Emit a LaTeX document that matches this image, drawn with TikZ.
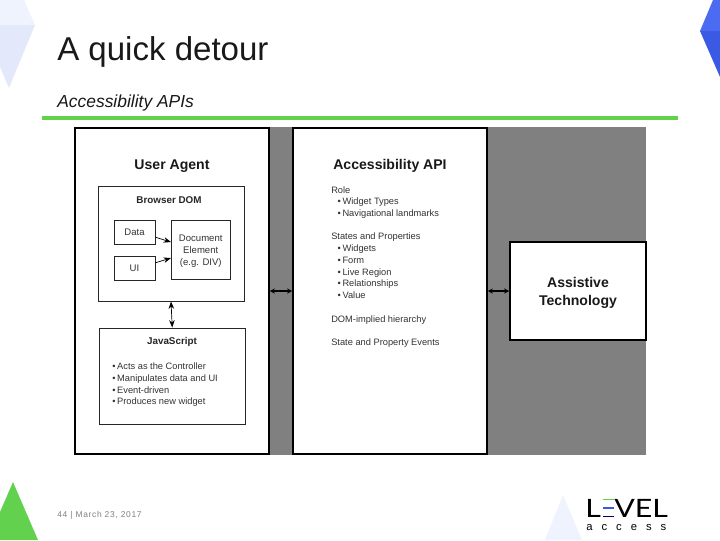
\documentclass[tikz,border=0pt]{standalone}
\usepackage{fontspec}
\setmainfont{Liberation Sans}
\newfontfamily\footfont[LetterSpace=8]{Liberation Sans}
\newfontfamily\logofont[FakeStretch=1.2]{Lato}
\usetikzlibrary{arrows.meta,positioning}
\definecolor{levelgreen}{HTML}{62D14E}
\definecolor{paleblue}{HTML}{E3E9FB}
\definecolor{palerblue}{HTML}{EFF3FD}
\definecolor{brightblue}{HTML}{4A6BF2}
\definecolor{deepblue}{HTML}{3A5AE4}
\newcommand{\tightdot}{\textbullet\hspace{1.2pt}}
\newcommand{\itemdot}{\hspace*{4.5pt}\tightdot}
\begin{document}
\begin{tikzpicture}[
      x=0.025cm,y=-0.025cm,
      panel/.style={draw=black,line width=1.1pt,fill=white,inner sep=0pt},
      inbox/.style={draw=black!85,line width=0.7pt,fill=white,inner sep=0pt,align=center,
                    font=\fontsize{6.8}{8.4}\selectfont,text=black!80},
      head/.style={font=\fontsize{10}{13}\selectfont\bfseries,text=black!90,align=center},
      subhead/.style={font=\fontsize{7}{8}\selectfont\bfseries,text=black!85},
      body/.style={font=\fontsize{6.6}{8.35}\selectfont,text=black!80,align=left,inner sep=0pt},
      twoway/.style={{Stealth[length=3.6pt,width=3.6pt]}-{Stealth[length=3.6pt,width=3.6pt]},line width=1.1pt,black},
      thinway/.style={Stealth-Stealth,line width=0.5pt,black},
      oneway/.style={-Stealth,line width=0.5pt,black},
  ]
  \useasboundingbox (0,0) rectangle (720,540);

  %--- slide decoration ---
  \fill[palerblue] (0,0) -- (24,0) -- (35,25) -- (0,25) -- cycle;
  \fill[paleblue] (0,25) -- (35,25) -- (9,88) -- (0,67) -- cycle;
  \fill[brightblue] (713,0) -- (720,0) -- (720,31) -- (700,31) -- cycle;
  \fill[deepblue] (700,31) -- (720,31) -- (720,77) -- cycle;
  \fill[levelgreen] (13,482) -- (38,540) -- (0,540) -- (0,512) -- cycle;
  \fill[palerblue] (563,495) -- (582,540) -- (545,540) -- cycle;

  \node[anchor=west,inner sep=0pt,font=\fontsize{23.5}{28}\selectfont,text=black!90] (title) at (57,52) {A quick detour};
  \node[anchor=west,inner sep=0pt,font=\fontsize{12.4}{15}\selectfont\itshape,text=black!90] (subtitle) at (57,103) {Accessibility APIs};
  \draw[levelgreen,line width=2.8pt] (42,118) -- (678,118);

  %--- diagram ---
  \node[fill=black!50,inner sep=0pt,minimum width=571*0.025cm,minimum height=328*0.025cm] (back) at (360.5,291) {};
  \node[panel,minimum width=194*0.025cm,minimum height=326*0.025cm] (agent) at (172,291) {};
  \node[panel,minimum width=194*0.025cm,minimum height=326*0.025cm] (api) at (390,291) {};
  \node[panel,minimum width=136*0.025cm,minimum height=98*0.025cm] (tech) at (578,291) {};
  \node[head] (techlabel) at (578,293) {Assistive\\Technology};

  \node[head] (agenthead) at (172,166) {User Agent};
  \node[inbox,minimum width=146*0.025cm,minimum height=115*0.025cm] (dom) at (171,243.5) {};
  \node[subhead] (domhead) at (169,200) {Browser DOM};
  \node[inbox,minimum width=41*0.025cm,minimum height=24*0.025cm] (data) at (134.5,232) {Data};
  \node[inbox,minimum width=41*0.025cm,minimum height=24*0.025cm] (ui) at (134.5,268) {UI};
  \node[inbox,minimum width=58.5*0.025cm,minimum height=59*0.025cm] (element) at (200.75,249.5) {};
  \node[inbox,draw=none,fill=none] (elementlabel) at (200.75,251) {Document\\Element\\(e.g. DIV)};
  \draw[oneway] (data.-14) -- (element.166);
  \draw[oneway] (ui.14) -- (element.196);

  \node[inbox,minimum width=145.5*0.025cm,minimum height=96*0.025cm] (script) at (172.25,376) {};
  \node[subhead] (scripthead) at (172,342) {JavaScript};
  \node[body,anchor=north west] (scriptlist) at (112,362.5) {\tightdot Acts as the Controller\\
    \tightdot Manipulates data and UI\\
    \tightdot Event-driven\\
    \tightdot Produces new widget};
  \draw[thinway] (dom.south) -- (script.north);

  \node[head] (apihead) at (390,166) {Accessibility API};
  \node[body,anchor=north west] (apilist) at (331,186) {Role\\
    \itemdot Widget Types\\
    \itemdot Navigational landmarks\\
    ~\\
    States and Properties\\
    \itemdot Widgets\\
    \itemdot Form\\
    \itemdot Live Region\\
    \itemdot Relationships\\
    \itemdot Value\\
    ~\\
    DOM-implied hierarchy\\
    ~\\
    State and Property Events};

  \draw[twoway] (agent) -- (api);
  \draw[twoway] (api) -- (tech);

  %--- footer ---
  \node[anchor=west,inner sep=0pt,font=\fontsize{6}{8}\footfont,text=black!50] (footer) at (57,515) {44 | March 23, 2017};

  %--- logo ---
  \node[anchor=base west,inner sep=0pt,font=\fontsize{18}{20}\logofont] (logol) at (585,517) {L};
  \node[anchor=base west,inner sep=0pt,font=\fontsize{18}{20}\logofont] (logovel) at (614,517) {VEL};
  \draw[levelgreen,line width=1pt] (603,499.5) -- (614,499.5);
  \draw[deepblue,line width=1pt] (603,508) -- (614,508);
  \draw[black!60!blue,line width=1pt] (603,516.5) -- (614,516.5);
  \node[anchor=base west,inner sep=0pt,font=\fontsize{8}{10}\selectfont] (logoaccess) at (586,530) {a\hspace{6.4pt}c\hspace{6.4pt}c\hspace{6.4pt}e\hspace{6.4pt}s\hspace{6.4pt}s};
\end{tikzpicture}
\end{document}
